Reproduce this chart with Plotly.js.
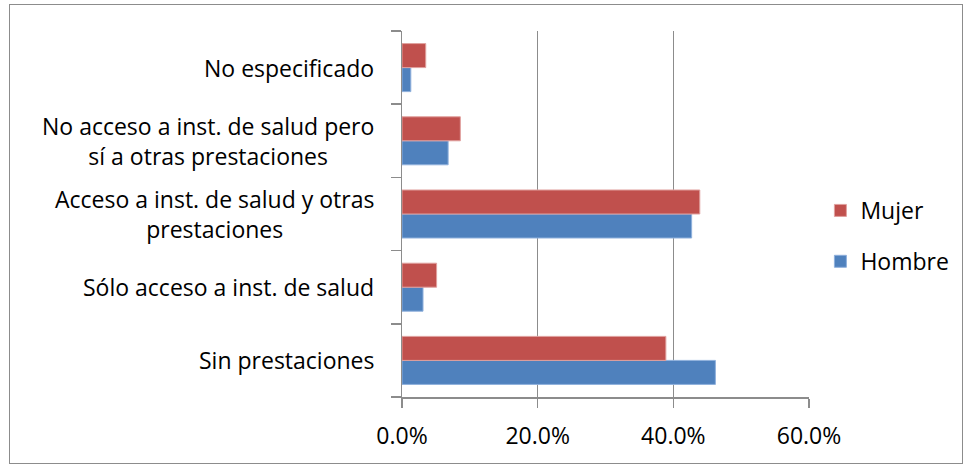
<!DOCTYPE html>
<html>
<head>
<meta charset="utf-8">
<script src="https://cdn.plot.ly/plotly-3.0.1.min.js"></script>
<style>
html,body{margin:0;padding:0;background:#fff;}
#wrap{position:relative;width:967px;height:467px;}
#chart{position:absolute;left:0;top:0;width:967px;height:467px;}
#frame{position:absolute;left:9px;top:4px;width:952px;height:458px;border:1.5px solid #8c8c8c;pointer-events:none;}
</style>
</head>
<body>
<div id="wrap"><div id="chart"></div><div id="frame"></div></div>
<script>
// Categories, bottom to top
const categories = [
  "Sin prestaciones",
  "Sólo acceso a inst. de salud",
  "Acceso a inst. de salud y otras prestaciones",
  "No acceso a inst. de salud pero sí a otras prestaciones",
  "No especificado"
];
const categoryLabels = [
  "Sin prestaciones",
  "Sólo acceso a inst. de salud",
  "Acceso a inst. de salud y otras<br>prestaciones",
  "No acceso a inst. de salud pero<br>sí a otras prestaciones",
  "No especificado"
];
const hombre = [0.462, 0.031, 0.427, 0.068, 0.013];
const mujer  = [0.389, 0.051, 0.439, 0.086, 0.035];
const tickVals = [0, 0.2, 0.4, 0.6];
const tickText = ["0.0%", "20.0%", "40.0%", "60.0%"];

const FONT = "'Open Sans', sans-serif";
const FS = 23;

const traces = [
  {type:'bar', orientation:'h', name:'Hombre', y:categories, x:hombre,
   marker:{color:'#4F81BD', line:{color:'#8fb0dc', width:1}}, legendgroup:'h', legendrank:2},
  {type:'bar', orientation:'h', name:'Mujer', y:categories, x:mujer,
   marker:{color:'#C0504D', line:{color:'#e0a09e', width:1}}, legendgroup:'m', legendrank:1}
];

const annotations = categories.map((c, i) => ({
  xref:'paper', yref:'y', x:-0.064, y:c, xanchor:'right', yanchor:'middle',
  text: categoryLabels[i], showarrow:false, align:'center',
  font:{family:FONT, size:FS, color:'#000'}
}));

const layout = {
  width:967, height:467,
  margin:{l:402, r:157.5, t:31, b:70, pad:0},
  paper_bgcolor:'#fff', plot_bgcolor:'#fff',
  barmode:'group', bargap:0.344, bargroupgap:0,
  font:{family:FONT, size:FS, color:'#000'},
  xaxis:{
    range:[0, 0.6], tickvals:tickVals, ticktext:tickText,
    showgrid:true, gridcolor:'#8c8c8c', gridwidth:1.5,
    zeroline:false, showline:true, linecolor:'#8c8c8c', linewidth:1.5,
    ticks:'outside', ticklen:9, tickcolor:'#8c8c8c', tickwidth:1.5,
    ticklabelstandoff:9,
    tickfont:{family:FONT, size:FS, color:'#000'}, fixedrange:true
  },
  yaxis:{
    type:'category', categoryorder:'array', categoryarray:categories,
    range:[-0.5, 4.5],
    showgrid:false, zeroline:false, showline:true, linecolor:'#8c8c8c', linewidth:1.5,
    ticks:'outside', tickson:'boundaries', ticklen:10, tickcolor:'#8c8c8c', tickwidth:1.5,
    showticklabels:false, fixedrange:true
  },
  legend:{
    x:1.028, xanchor:'left', y:0.44, yanchor:'middle',
    traceorder:'grouped', tracegroupgap:18,
    font:{family:FONT, size:FS, color:'#000'}, bgcolor:'rgba(0,0,0,0)'
  },
  annotations: annotations,
  showlegend:true
};

Plotly.newPlot('chart', traces, layout, {displayModeBar:false, staticPlot:true});
</script>
</body>
</html>
